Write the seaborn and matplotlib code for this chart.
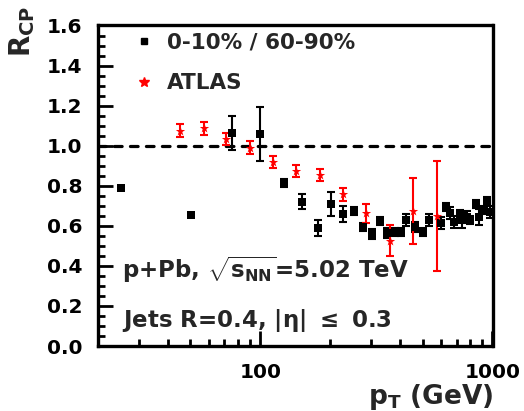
import matplotlib
matplotlib.use("Agg")
import matplotlib.pyplot as plt
import numpy as np
import pandas as pd
import seaborn as sns
from matplotlib.ticker import FixedLocator, NullFormatter, FixedFormatter, MultipleLocator, FormatStrFormatter
from matplotlib.lines import Line2D

# central / peripheral ratio
pt_cp = [25.1, 50.2, 75.2, 100.0, 126.6, 151.3, 176.6, 201.9, 226.4, 252.5,
         277.5, 302.6, 326.5, 351.6, 382.0, 405.0, 425.8, 465.6, 500.0, 535.0,
         601.0, 631.0, 659.0, 681.0, 722.0, 740.0, 773.0, 798.0, 845.0, 874.0,
         918.0, 948.0, 973.0]
rcp_cp = [0.787, 0.654, 1.062, 1.058, 0.812, 0.720, 0.588, 0.709, 0.657, 0.674,
          0.593, 0.558, 0.626, 0.563, 0.570, 0.570, 0.629, 0.593, 0.571, 0.629,
          0.616, 0.692, 0.662, 0.621, 0.659, 0.629, 0.645, 0.629, 0.707, 0.645,
          0.679, 0.725, 0.670]
err_cp = [0.010, 0.010, 0.085, 0.136, 0.020, 0.037, 0.040, 0.060, 0.040, 0.020,
          0.020, 0.025, 0.020, 0.025, 0.020, 0.020, 0.030, 0.025, 0.020, 0.030,
          0.030, 0.020, 0.030, 0.030, 0.020, 0.040, 0.030, 0.020, 0.020, 0.040,
          0.020, 0.020, 0.030]

# ATLAS measurement
pt_atlas = [45.2, 57.0, 71.3, 90.6, 113.4, 142.9, 180.4, 226.4, 286.5, 360.6, 453.0, 574.0]
rcp_atlas = [1.075, 1.087, 1.032, 0.990, 0.920, 0.875, 0.854, 0.757, 0.662, 0.526, 0.674, 0.649]
err_atlas = [0.031, 0.033, 0.031, 0.031, 0.031, 0.031, 0.032, 0.031, 0.048, 0.077, 0.166, 0.275]

label_cp = "0-10% / 60-90%"
label_atlas = "ATLAS"
yticks = [0.0, 0.2, 0.4, 0.6, 0.8, 1.0, 1.2, 1.4, 1.6]
xticks = [100, 1000]

df = pd.concat([
    pd.DataFrame({"pt": pt_cp, "rcp": rcp_cp, "err": err_cp, "set": label_cp}),
    pd.DataFrame({"pt": pt_atlas, "rcp": rcp_atlas, "err": err_atlas, "set": label_atlas}),
], ignore_index=True)

sns.set_style("ticks")
plt.rcParams["font.family"] = ["DejaVu Sans"]
plt.rcParams["font.weight"] = "bold"
plt.rcParams["mathtext.fontset"] = "custom"
plt.rcParams["mathtext.rm"] = "DejaVu Sans:bold"
plt.rcParams["mathtext.it"] = "DejaVu Sans:bold"
plt.rcParams["mathtext.bf"] = "DejaVu Sans:bold"
plt.rcParams["axes.axisbelow"] = False

fig = plt.figure(figsize=(5.24, 4.11), dpi=100)
ax = fig.add_axes([98 / 524, 1 - 346 / 411, (492.5 - 98) / 524, (346 - 25.5) / 411])

colors = {label_cp: "black", label_atlas: "red"}
caps = {label_cp: 2.6, label_atlas: 3.0}

sns.scatterplot(data=df[df["set"] == label_cp], x="pt", y="rcp", color="black",
                marker="s", s=30, linewidth=0, legend=False, ax=ax, zorder=3)
sns.scatterplot(data=df[df["set"] == label_atlas], x="pt", y="rcp", color="red",
                marker="*", s=50, linewidth=0, legend=False, ax=ax, zorder=3)

ax.set_xscale("log")
ax.set_xlim(20, 1000)
ax.set_ylim(0, 1.6)
ax.set_xlabel("")
ax.set_ylabel("")
ax.set_axisbelow(False)

ax.xaxis.set_major_locator(FixedLocator(xticks))
ax.xaxis.set_major_formatter(FixedFormatter([str(v) for v in xticks]))
ax.yaxis.set_major_locator(FixedLocator(yticks))
ax.yaxis.set_major_formatter(FormatStrFormatter("%.1f"))
ax.yaxis.set_minor_locator(MultipleLocator(0.05))

# frame and inward ticks on the left and bottom only
for sp in ax.spines.values():
    sp.set_linewidth(2.4)
    sp.set_color("black")
ax.tick_params(which="major", direction="in", width=2, length=11, top=False, right=False,
               colors="black", labelsize=14.5)
ax.tick_params(which="minor", direction="in", width=2, length=5, top=False, right=False,
               colors="black")
ax.tick_params(axis="y", which="major", pad=11.5)
ax.tick_params(axis="x", which="major", pad=12)

# error bars under the markers, reference line at unity
for name, sub in df.groupby("set", sort=False):
    ax.errorbar(sub["pt"].to_numpy(), sub["rcp"].to_numpy(), yerr=sub["err"].to_numpy(), fmt="none",
                ecolor=colors[name], elinewidth=1.5, capsize=caps[name], capthick=1.5, zorder=2)
ax.axhline(1.0, color="black", lw=2.3, ls=(0, (2.4, 2.6)), dash_capstyle="round", zorder=1)

fig.text(22 / 524, 1 - 6 / 411, r"$\mathregular{R_{CP}}$", rotation=90, ha="center", va="top",
         fontsize=20)
fig.text(493 / 524, 1 - 404 / 411, r"$\mathregular{p_{T}}$ (GeV)", ha="right", va="baseline",
         fontsize=19)
fig.text(122 / 524, 1 - 278 / 411, r"p+Pb, $\mathregular{\sqrt{s_{NN}}}$=5.02 TeV",
         ha="left", va="baseline", fontsize=16.5)
fig.text(122 / 524, 1 - 327 / 411, r"Jets R=0.4, |$\mathregular{\eta}$| $\leq$ 0.3",
         ha="left", va="baseline", fontsize=16.5)

handles = [
    Line2D([], [], ls="none", marker="s", color="black", markersize=5),
    Line2D([], [], ls="none", marker="*", color="red", markersize=7),
]
ax.legend(handles, [label_cp, label_atlas], loc="upper left",
          bbox_to_anchor=((134 - 98) / 394.5, (346 - 33) / 320.5), frameon=False,
          prop={"weight": "bold", "size": 15.5}, handlelength=0.95,
          handletextpad=0.6, labelspacing=0.95, borderaxespad=0, borderpad=0)

fig.savefig("out.png", dpi=100)
